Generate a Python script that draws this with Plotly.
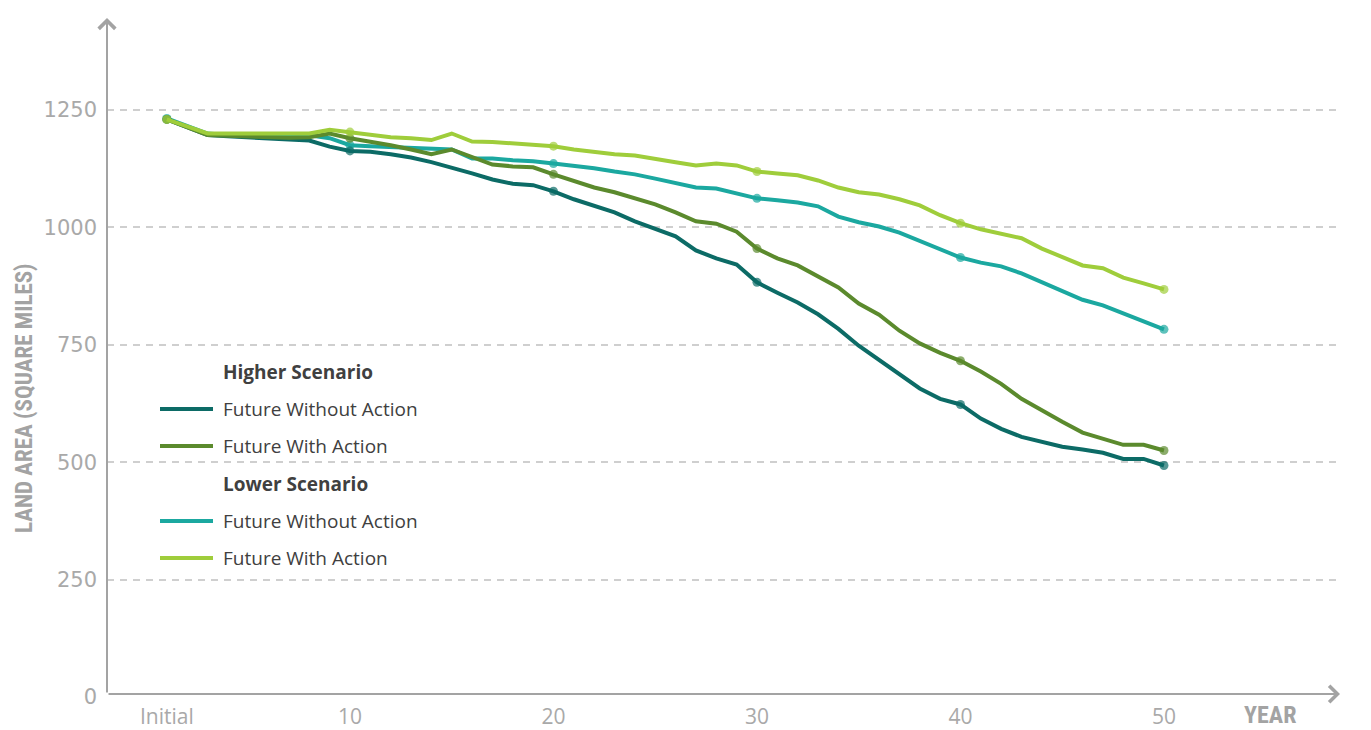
import plotly.graph_objects as go

# ---- data -------------------------------------------------------------
years = list(range(1, 51))  # year 1 is labelled "Initial"

higher_without = [1230, 1213, 1197, 1194, 1191, 1188, 1187, 1185, 1172, 1163,
                  1161, 1156, 1149, 1139, 1128, 1115, 1102, 1093, 1090, 1077,
                  1060, 1045, 1032, 1013, 998, 981, 951, 934, 921, 883,
                  861, 840, 815, 784, 748, 718, 689, 657, 635, 623,
                  593, 571, 554, 544, 533, 527, 520, 507, 507, 493]

higher_with = [1230, 1213, 1197, 1195, 1193, 1191, 1191, 1192, 1200, 1190,
               1183, 1175, 1166, 1156, 1166, 1151, 1134, 1130, 1128, 1113,
               1098, 1085, 1075, 1062, 1049, 1032, 1013, 1008, 991, 955,
               934, 919, 896, 872, 838, 814, 780, 753, 733, 716,
               693, 667, 635, 610, 586, 563, 550, 537, 537, 525]

lower_without = [1232, 1215, 1200, 1197, 1197, 1196, 1196, 1196, 1190, 1175,
                 1173, 1171, 1170, 1168, 1166, 1147, 1147, 1143, 1141, 1136,
                 1132, 1126, 1119, 1113, 1104, 1094, 1085, 1083, 1072, 1062,
                 1058, 1053, 1045, 1023, 1011, 1002, 989, 972, 953, 936,
                 925, 917, 902, 883, 866, 846, 834, 817, 802, 783]

lower_with = [1230, 1214, 1200, 1200, 1200, 1199, 1199, 1200, 1208, 1203,
              1198, 1192, 1190, 1186, 1200, 1183, 1182, 1179, 1177, 1173,
              1166, 1160, 1156, 1153, 1145, 1139, 1132, 1136, 1132, 1119,
              1115, 1111, 1100, 1085, 1075, 1070, 1060, 1047, 1026, 1009,
              996, 987, 977, 955, 936, 919, 913, 893, 881, 868]

x_tick_vals = [1, 10, 20, 30, 40, 50]
x_tick_text = ["Initial", "10", "20", "30", "40", "50"]
y_tick_vals = [0, 250, 500, 750, 1000, 1250]
marker_years = [1, 10, 20, 30, 40, 50]

series = [
    ("Lower Scenario", "Future Without Action", lower_without, "#1ba8a0"),
    ("Higher Scenario", "Future Without Action", higher_without, "#0c6b66"),
    ("Higher Scenario", "Future With Action", higher_with, "#5b8a2d"),
    ("Lower Scenario", "Future With Action", lower_with, "#9fcd3b"),
]

# ---- figure -----------------------------------------------------------
W, H = 1371, 730
ML, MR, MT, MB = 107, 31, 18, 33
PW, PH = W - ML - MR, H - MT - MB

def px_x(p):
    return (p - ML) / PW

def px_y(p):
    return (H - MB - p) / PH

fig = go.Figure()
for scen, name, vals, col in series:
    sizes = [9 if y in marker_years else 0 for y in years]
    fig.add_trace(go.Scatter(
        x=years, y=vals, mode="lines+markers",
        name=f"{scen}: {name}",
        line=dict(color=col, width=4),
        marker=dict(color=col, size=sizes, line=dict(width=0)),
        showlegend=False,
        hoverinfo="x+y+name",
    ))

axis_col = "#a3a3a3"
narrow = "Liberation Sans Narrow, Arial Narrow, Roboto Condensed, DejaVu Sans Condensed, sans-serif"

fig.update_layout(
    width=W, height=H,
    margin=dict(l=ML, r=MR, t=MT, b=MB, pad=0, autoexpand=False),
    paper_bgcolor="white", plot_bgcolor="white",
    xaxis=dict(
        range=[-1.94, 58.65], tickvals=x_tick_vals, ticktext=x_tick_text,
        showgrid=False, zeroline=False, showline=False, ticks="",
        tickfont=dict(family="Open Sans, sans-serif", size=21, color="#a9a9a9"),
        ticklabelstandoff=5, automargin=False,
    ),
    yaxis=dict(
        range=[0, 1446], tickvals=y_tick_vals,
        showgrid=True, gridcolor="#cfcfcf", gridwidth=1.5, griddash="7px,6px",
        zeroline=False, showline=False, ticks="",
        tickfont=dict(family="DejaVu Sans, sans-serif", size=21, color="#a9a9a9"),
        ticklabelstandoff=9, automargin=False,
    ),
)

# axis lines with arrowheads
fig.add_annotation(x=1, y=px_y(694), xref="paper", yref="paper",
                   axref="pixel", ayref="pixel", ax=-PW, ay=0,
                   text="", showarrow=True,
                   arrowhead=4, arrowsize=1.6, arrowwidth=2, arrowcolor=axis_col)
fig.add_annotation(x=0, y=1, xref="paper", yref="paper",
                   axref="pixel", ayref="pixel", ax=0, ay=PH - 3,
                   text="", showarrow=True,
                   arrowhead=4, arrowsize=1.6, arrowwidth=2, arrowcolor=axis_col)

# axis titles
fig.add_annotation(x=px_x(24), y=px_y(398), xref="paper", yref="paper",
                   text="<b>LAND AREA (SQUARE MILES)</b>", textangle=-90,
                   showarrow=False, xanchor="center", yanchor="middle",
                   font=dict(family=narrow, size=23, color="#a3a3a3"))
fig.add_annotation(x=px_x(1270), y=px_y(715), xref="paper", yref="paper",
                   text="<b>YEAR</b>", showarrow=False,
                   xanchor="center", yanchor="middle",
                   font=dict(family=narrow, size=24, color="#a3a3a3"))

# legend
legend_font = dict(family="Open Sans, sans-serif", size=19, color="#404040")
legend_rows = [
    (372, "<b>Higher Scenario</b>", None),
    (409, "Future Without Action", "#0c6b66"),
    (446, "Future With Action", "#5b8a2d"),
    (484, "<b>Lower Scenario</b>", None),
    (521, "Future Without Action", "#1ba8a0"),
    (558, "Future With Action", "#9fcd3b"),
]
for ypx, txt, col in legend_rows:
    fig.add_annotation(x=px_x(221), y=px_y(ypx), xref="paper", yref="paper",
                       text=txt, showarrow=False, xanchor="left",
                       yanchor="middle", font=legend_font)
    if col:
        fig.add_shape(type="line", xref="paper", yref="paper",
                      x0=px_x(160), x1=px_x(213), y0=px_y(ypx), y1=px_y(ypx),
                      line=dict(color=col, width=4))

fig.write_html("out.html")
